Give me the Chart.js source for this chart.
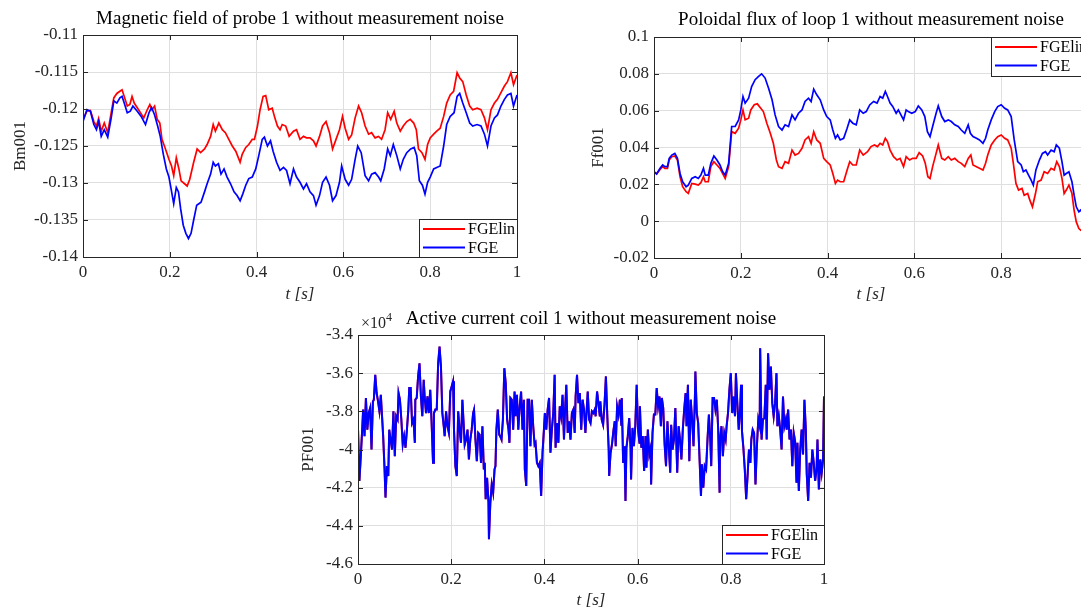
<!DOCTYPE html>
<html>
<head>
<meta charset="utf-8">
<script src="https://cdn.jsdelivr.net/npm/chart.js@4.4.0/dist/chart.umd.min.js"></script>
<style>
  html, body { margin: 0; padding: 0; background: #fff; overflow: hidden; width: 1081px; height: 611px; }
  canvas { position: absolute; }
</style>
</head>
<body>
<canvas id="bmChart" width="540" height="305" style="left:0;top:0"></canvas>
<canvas id="ffChart" width="530" height="305" style="left:580px;top:0"></canvas>
<canvas id="pfChart" width="560" height="311" style="left:290px;top:300px"></canvas>
<script>
// Probe 1 magnetic field [T]
const bmTimeLin = [0, 0.009, 0.017, 0.025, 0.031, 0.036, 0.042, 0.049, 0.057, 0.065, 0.071, 0.078, 0.085, 0.09, 0.095, 0.102, 0.108, 0.113, 0.118, 0.128, 0.14, 0.148, 0.154, 0.159, 0.165, 0.171, 0.177, 0.182, 0.19, 0.198, 0.204, 0.209, 0.215, 0.221, 0.226, 0.234, 0.24, 0.246, 0.255, 0.263, 0.271, 0.28, 0.286, 0.294, 0.3, 0.305, 0.313, 0.321, 0.328, 0.336, 0.344, 0.352, 0.362, 0.367, 0.375, 0.382, 0.39, 0.395, 0.402, 0.408, 0.415, 0.421, 0.428, 0.436, 0.442, 0.448, 0.454, 0.459, 0.467, 0.475,
  0.485, 0.492, 0.5, 0.508, 0.515, 0.523, 0.531, 0.537, 0.545, 0.552, 0.56, 0.568, 0.575, 0.583, 0.591, 0.598, 0.604, 0.612, 0.619, 0.627, 0.635, 0.642, 0.65, 0.658, 0.665, 0.673, 0.681, 0.688, 0.696, 0.702, 0.709, 0.717, 0.723, 0.731, 0.738, 0.746, 0.754, 0.762, 0.768, 0.773, 0.781, 0.788, 0.794, 0.8, 0.808, 0.815, 0.823, 0.831, 0.838, 0.846, 0.854, 0.862, 0.868, 0.875, 0.883, 0.891, 0.898, 0.908, 0.917, 0.925, 0.932, 0.94, 0.948, 0.955, 0.963, 0.971, 0.978, 0.986, 0.992, 1];
const bmFgelin = [-0.1214, -0.1203, -0.1202, -0.1217, -0.1223, -0.1213, -0.123, -0.1219, -0.1232, -0.1205, -0.1185, -0.1179, -0.1176, -0.1174, -0.1183, -0.1196, -0.1194, -0.1183, -0.1192, -0.1201, -0.1212, -0.1201, -0.1194, -0.1201, -0.1196, -0.1214, -0.1219, -0.1241, -0.1254, -0.1268, -0.1277, -0.129, -0.1266, -0.1281, -0.1297, -0.1301, -0.1304, -0.1295, -0.1272, -0.1254, -0.1259, -0.1254, -0.1248, -0.1237, -0.1221, -0.123, -0.1219, -0.1228, -0.1232, -0.1241, -0.125, -0.1257, -0.1272, -0.1261, -0.1252, -0.1248, -0.1241, -0.1241, -0.1223, -0.1201, -0.1183, -0.1182, -0.1201, -0.1199, -0.1212, -0.1223, -0.1228, -0.1221, -0.1223, -0.1237,
  -0.123, -0.1228, -0.1241, -0.1237, -0.1239, -0.1239, -0.1243, -0.125, -0.1237, -0.1223, -0.1217, -0.1232, -0.1254, -0.1241, -0.1228, -0.121, -0.1226, -0.1241, -0.1235, -0.1212, -0.1196, -0.1205, -0.1223, -0.1234, -0.1232, -0.1239, -0.1237, -0.1241, -0.1228, -0.1205, -0.1214, -0.1203, -0.1219, -0.123, -0.1223, -0.1217, -0.1214, -0.1219, -0.1228, -0.1254, -0.1259, -0.1268, -0.1248, -0.1239, -0.1234, -0.123, -0.1226, -0.121, -0.1192, -0.1181, -0.1176, -0.1151, -0.1158, -0.1163, -0.1181, -0.1196, -0.1201, -0.1199, -0.1201, -0.1212, -0.1228, -0.1201, -0.1192, -0.1187, -0.1178, -0.1169, -0.1163, -0.1151, -0.1167, -0.1154];
const bmTimeFge = [0, 0.009, 0.017, 0.025, 0.031, 0.036, 0.042, 0.049, 0.057, 0.065, 0.071, 0.078, 0.085, 0.09, 0.095, 0.102, 0.109, 0.115, 0.125, 0.134, 0.144, 0.152, 0.158, 0.165, 0.172, 0.178, 0.185, 0.192, 0.198, 0.203, 0.209, 0.215, 0.22, 0.225, 0.231, 0.237, 0.243, 0.249, 0.255, 0.262, 0.267, 0.272, 0.28, 0.286, 0.294, 0.3, 0.305, 0.312, 0.318, 0.325, 0.332, 0.34, 0.348, 0.355, 0.362, 0.368, 0.375, 0.382, 0.39, 0.398, 0.405, 0.413, 0.418, 0.425, 0.432, 0.438, 0.446, 0.454, 0.462, 0.469, 0.477,
  0.485, 0.492, 0.5, 0.508, 0.515, 0.523, 0.531, 0.537, 0.545, 0.552, 0.56, 0.568, 0.575, 0.583, 0.591, 0.596, 0.604, 0.612, 0.619, 0.627, 0.633, 0.641, 0.65, 0.658, 0.665, 0.673, 0.681, 0.686, 0.694, 0.702, 0.708, 0.715, 0.723, 0.731, 0.738, 0.746, 0.755, 0.763, 0.769, 0.775, 0.782, 0.788, 0.794, 0.8, 0.808, 0.815, 0.823, 0.831, 0.838, 0.846, 0.855, 0.862, 0.868, 0.875, 0.883, 0.891, 0.898, 0.908, 0.917, 0.925, 0.932, 0.94, 0.948, 0.955, 0.963, 0.971, 0.978, 0.986, 0.992, 1];
const bmFge = [-0.1217, -0.1201, -0.1203, -0.1221, -0.1228, -0.1217, -0.1237, -0.1228, -0.1238, -0.1212, -0.1189, -0.1192, -0.1185, -0.1183, -0.1192, -0.1205, -0.1203, -0.1196, -0.1203, -0.121, -0.1221, -0.1205, -0.1198, -0.1208, -0.1223, -0.1237, -0.1261, -0.1281, -0.1292, -0.1308, -0.1328, -0.1306, -0.1312, -0.1335, -0.1357, -0.1368, -0.1375, -0.1368, -0.135, -0.133, -0.1328, -0.1326, -0.1312, -0.1301, -0.1288, -0.1272, -0.1277, -0.1274, -0.1288, -0.1281, -0.1292, -0.1301, -0.1312, -0.1317, -0.1324, -0.1315, -0.1303, -0.1294, -0.1292, -0.1281, -0.1263, -0.1241, -0.1238, -0.125, -0.1243, -0.1257, -0.1272, -0.1283, -0.1279, -0.1283, -0.1301,
  -0.1281, -0.1292, -0.1299, -0.1308, -0.1301, -0.1312, -0.1317, -0.133, -0.1317, -0.1299, -0.1292, -0.1303, -0.1324, -0.1317, -0.1299, -0.1277, -0.1295, -0.1303, -0.1295, -0.1268, -0.125, -0.1259, -0.129, -0.1297, -0.1288, -0.1286, -0.1292, -0.1297, -0.1281, -0.1254, -0.1263, -0.1248, -0.1263, -0.1281, -0.1268, -0.1259, -0.1254, -0.1252, -0.1263, -0.1297, -0.1303, -0.1315, -0.1299, -0.1292, -0.1281, -0.1279, -0.1277, -0.125, -0.1221, -0.121, -0.1205, -0.1183, -0.1179, -0.1192, -0.1205, -0.1219, -0.1223, -0.1221, -0.1223, -0.1234, -0.125, -0.1223, -0.1212, -0.1208, -0.1196, -0.1187, -0.1181, -0.1179, -0.1196, -0.1181];

// Loop 1 poloidal flux [Wb]
const ffTimeLin = [0, 0.006, 0.014, 0.02, 0.025, 0.031, 0.035, 0.041, 0.048, 0.054, 0.06, 0.066, 0.074, 0.079, 0.087, 0.095, 0.102, 0.108, 0.114, 0.118, 0.125, 0.131, 0.138, 0.145, 0.152, 0.158, 0.164, 0.172, 0.179, 0.187, 0.195, 0.2, 0.205, 0.21, 0.218, 0.223, 0.231, 0.238, 0.246, 0.252, 0.26, 0.268, 0.275, 0.282, 0.287, 0.295, 0.302, 0.31, 0.318, 0.325, 0.333, 0.341, 0.348, 0.356, 0.362, 0.368, 0.375, 0.383, 0.391, 0.398, 0.406, 0.412, 0.418, 0.423, 0.429, 0.437, 0.445, 0.451, 0.458, 0.466, 0.474, 0.482,
  0.492, 0.5, 0.508, 0.515, 0.521, 0.527, 0.533, 0.538, 0.544, 0.552, 0.56, 0.567, 0.575, 0.581, 0.589, 0.596, 0.604, 0.611, 0.619, 0.625, 0.631, 0.636, 0.642, 0.65, 0.655, 0.663, 0.67, 0.678, 0.685, 0.693, 0.701, 0.708, 0.716, 0.724, 0.73, 0.735, 0.743, 0.75, 0.758, 0.764, 0.769, 0.777, 0.785, 0.792, 0.8, 0.808, 0.815, 0.823, 0.828, 0.834, 0.84, 0.848, 0.853, 0.861, 0.866, 0.872, 0.879, 0.884, 0.892, 0.899, 0.907, 0.915, 0.922, 0.928, 0.934, 0.94, 0.945, 0.95, 0.956, 0.963, 0.968, 0.973, 0.979, 0.983, 0.99, 1];
const ffFgelin = [0.0269, 0.0256, 0.0281, 0.0296, 0.0287, 0.0287, 0.0332, 0.035, 0.0354, 0.0332, 0.0241, 0.0187, 0.016, 0.0151, 0.0205, 0.0201, 0.0196, 0.0209, 0.0241, 0.0214, 0.0214, 0.0296, 0.0323, 0.0305, 0.0287, 0.0259, 0.0232, 0.0296, 0.0486, 0.0477, 0.0505, 0.055, 0.0604, 0.055, 0.0559, 0.0604, 0.0632, 0.0637, 0.0613, 0.0595, 0.0532, 0.0477, 0.0423, 0.0332, 0.0296, 0.0287, 0.0323, 0.0314, 0.0386, 0.0359, 0.0368, 0.0396, 0.0441, 0.0459, 0.0423, 0.0486, 0.0441, 0.0423, 0.0341, 0.0323, 0.0305, 0.0259, 0.0205, 0.0223, 0.0214, 0.0214, 0.0278, 0.0323, 0.0305, 0.0305, 0.0386, 0.0359,
  0.0377, 0.0405, 0.0414, 0.0405, 0.0423, 0.0414, 0.045, 0.0432, 0.0386, 0.035, 0.0332, 0.0341, 0.0296, 0.035, 0.0332, 0.0341, 0.0341, 0.0372, 0.0354, 0.0314, 0.0241, 0.0232, 0.0296, 0.0368, 0.0414, 0.0341, 0.0332, 0.035, 0.0332, 0.0341, 0.0323, 0.0314, 0.0296, 0.0341, 0.0359, 0.0305, 0.0296, 0.0287, 0.0278, 0.0314, 0.0359, 0.0414, 0.0441, 0.0459, 0.0468, 0.045, 0.0441, 0.0396, 0.0314, 0.0205, 0.0169, 0.0178, 0.0141, 0.015, 0.0114, 0.0078, 0.015, 0.0214, 0.0223, 0.0269, 0.0259, 0.0287, 0.0278, 0.0323, 0.0296, 0.0232, 0.015, 0.0169, 0.0196, 0.015, 0.0059, -0.0004, -0.004, -0.0049, -0.006, -0.007];
const ffTimeFge = [0, 0.006, 0.014, 0.02, 0.025, 0.031, 0.035, 0.041, 0.048, 0.054, 0.06, 0.066, 0.074, 0.079, 0.087, 0.095, 0.102, 0.108, 0.114, 0.118, 0.125, 0.131, 0.138, 0.145, 0.152, 0.158, 0.164, 0.172, 0.179, 0.187, 0.195, 0.2, 0.205, 0.21, 0.218, 0.225, 0.233, 0.241, 0.248, 0.256, 0.264, 0.272, 0.279, 0.287, 0.295, 0.302, 0.31, 0.318, 0.325, 0.333, 0.341, 0.348, 0.356, 0.362, 0.368, 0.375, 0.383, 0.391, 0.398, 0.406, 0.412, 0.418, 0.423, 0.429, 0.437, 0.445, 0.451, 0.458, 0.466, 0.474, 0.482,
  0.489, 0.497, 0.506, 0.514, 0.521, 0.527, 0.533, 0.538, 0.544, 0.55, 0.558, 0.563, 0.569, 0.575, 0.581, 0.586, 0.594, 0.602, 0.609, 0.617, 0.624, 0.63, 0.636, 0.642, 0.65, 0.655, 0.663, 0.67, 0.678, 0.685, 0.693, 0.701, 0.708, 0.716, 0.724, 0.729, 0.735, 0.743, 0.75, 0.758, 0.764, 0.769, 0.777, 0.785, 0.792, 0.8, 0.808, 0.815, 0.823, 0.83, 0.838, 0.846, 0.851, 0.857, 0.863, 0.869, 0.874, 0.88, 0.888, 0.895, 0.902, 0.907, 0.915, 0.922, 0.927, 0.934, 0.94, 0.945, 0.95, 0.956, 0.963, 0.968, 0.973, 0.979, 0.983, 0.99, 1];
const ffFge = [0.0269, 0.0256, 0.0287, 0.0305, 0.0296, 0.0296, 0.0341, 0.0359, 0.0368, 0.0341, 0.0259, 0.0214, 0.0187, 0.0196, 0.0232, 0.0241, 0.0232, 0.025, 0.0287, 0.025, 0.025, 0.0314, 0.0354, 0.0332, 0.0305, 0.0269, 0.025, 0.0314, 0.0514, 0.0514, 0.055, 0.0604, 0.0677, 0.0641, 0.0668, 0.0731, 0.0768, 0.0786, 0.08, 0.0777, 0.0722, 0.0659, 0.0577, 0.0514, 0.0495, 0.0523, 0.0514, 0.0577, 0.055, 0.0586, 0.0604, 0.065, 0.0668, 0.065, 0.0717, 0.0686, 0.0659, 0.0604, 0.0568, 0.055, 0.0495, 0.045, 0.0468, 0.0441, 0.045, 0.0505, 0.055, 0.0532, 0.0523, 0.0604, 0.0586,
  0.0595, 0.0631, 0.065, 0.0641, 0.0677, 0.0668, 0.0704, 0.0677, 0.0641, 0.0623, 0.0586, 0.0604, 0.0577, 0.055, 0.0604, 0.0595, 0.0586, 0.0595, 0.0626, 0.0604, 0.0568, 0.0486, 0.0459, 0.0514, 0.0586, 0.0626, 0.0568, 0.0541, 0.055, 0.0541, 0.0523, 0.0514, 0.0495, 0.0477, 0.0523, 0.0477, 0.0459, 0.045, 0.0441, 0.0423, 0.045, 0.0495, 0.055, 0.0595, 0.0622, 0.0632, 0.0613, 0.0604, 0.0568, 0.0441, 0.0323, 0.0305, 0.0269, 0.0278, 0.025, 0.0223, 0.0196, 0.0278, 0.0332, 0.0368, 0.0377, 0.0359, 0.0386, 0.0377, 0.0414, 0.0396, 0.0323, 0.025, 0.0259, 0.0268, 0.0214, 0.0141, 0.0078, 0.0051, 0.006, 0.004, 0.003];

// Coil 1 active current, in units of 1e4 A
const pfTime = [0, 0.003, 0.006, 0.009, 0.011, 0.014, 0.017, 0.02, 0.023, 0.026, 0.029, 0.032, 0.034, 0.037, 0.04, 0.043, 0.046, 0.049, 0.052, 0.054, 0.057, 0.059, 0.062, 0.065, 0.067, 0.07, 0.073, 0.076, 0.079, 0.082, 0.085, 0.087, 0.09, 0.093, 0.096, 0.099, 0.102, 0.105, 0.108, 0.11, 0.113, 0.116, 0.119, 0.122, 0.123, 0.126, 0.129, 0.132, 0.135, 0.138, 0.141, 0.143, 0.146, 0.149, 0.152, 0.155, 0.158, 0.161, 0.163, 0.166, 0.169, 0.172, 0.175, 0.178, 0.181, 0.184, 0.186, 0.189, 0.192, 0.195, 0.198, 0.201, 0.204, 0.206, 0.209, 0.212, 0.215, 0.218, 0.221, 0.224, 0.227, 0.229, 0.232, 0.235, 0.238, 0.241, 0.244, 0.247, 0.249, 0.252, 0.255, 0.258, 0.261,
  0.264, 0.267, 0.27, 0.272, 0.274, 0.277, 0.28, 0.281, 0.284, 0.287, 0.29, 0.293, 0.295, 0.297, 0.3, 0.303, 0.305, 0.308, 0.311, 0.314, 0.317, 0.32, 0.323, 0.325, 0.327, 0.33, 0.333, 0.336, 0.338, 0.341, 0.344, 0.347, 0.35, 0.353, 0.356, 0.358, 0.361, 0.364, 0.367, 0.37, 0.373, 0.376, 0.379, 0.381, 0.384, 0.387, 0.39, 0.393, 0.396, 0.399, 0.401, 0.404, 0.407, 0.41, 0.413, 0.416, 0.419, 0.422, 0.424, 0.427, 0.43, 0.433, 0.436, 0.439, 0.442, 0.444, 0.447, 0.45, 0.453, 0.456, 0.459, 0.462, 0.465, 0.467, 0.47, 0.473, 0.476, 0.479, 0.482, 0.485, 0.488, 0.49, 0.493, 0.496, 0.499, 0.502, 0.505, 0.508, 0.51, 0.513, 0.516, 0.519,
  0.52, 0.523, 0.526, 0.529, 0.532, 0.535, 0.538, 0.539, 0.542, 0.545, 0.548, 0.551, 0.553, 0.556, 0.559, 0.562, 0.565, 0.566, 0.569, 0.572, 0.574, 0.576, 0.579, 0.582, 0.585, 0.586, 0.589, 0.592, 0.595, 0.598, 0.601, 0.604, 0.605, 0.608, 0.611, 0.614, 0.617, 0.619, 0.622, 0.625, 0.628, 0.629, 0.632, 0.635, 0.638, 0.641, 0.644, 0.647, 0.65, 0.652, 0.655, 0.658, 0.661, 0.664, 0.667, 0.67, 0.672, 0.675, 0.678, 0.681, 0.684, 0.685, 0.688, 0.691, 0.694, 0.697, 0.7, 0.703, 0.705, 0.708, 0.711, 0.714, 0.717, 0.72, 0.723, 0.724, 0.727, 0.73, 0.733, 0.736, 0.738, 0.741, 0.744, 0.747, 0.75, 0.753, 0.756, 0.758, 0.761, 0.764, 0.767, 0.77, 0.773, 0.776,
  0.777, 0.78, 0.783, 0.786, 0.789, 0.791, 0.794, 0.797, 0.8, 0.803, 0.806, 0.809, 0.811, 0.814, 0.817, 0.82, 0.822, 0.824, 0.827, 0.83, 0.833, 0.836, 0.839, 0.842, 0.844, 0.847, 0.85, 0.853, 0.856, 0.859, 0.862, 0.863, 0.866, 0.869, 0.872, 0.875, 0.877, 0.88, 0.883, 0.886, 0.889, 0.892, 0.895, 0.898, 0.9, 0.903, 0.906, 0.909, 0.912, 0.915, 0.918, 0.92, 0.923, 0.926, 0.929, 0.932, 0.935, 0.938, 0.941, 0.943, 0.946, 0.949, 0.952, 0.955, 0.958, 0.961, 0.963, 0.966, 0.969, 0.972, 0.975, 0.978, 0.981, 0.984, 0.986, 0.989, 0.992, 0.995, 0.998, 1];
const pfFge = [-3.887, -4.165, -4.035, -3.896, -3.791, -3.93, -3.73, -3.896, -3.809, -3.783, -4.0, -3.748, -3.739, -3.609, -3.704, -3.748, -3.8, -3.713, -3.843, -3.93, -4.104, -4.252, -4.087, -4.139, -3.896, -3.948, -4.0, -3.8, -4.035, -3.826, -3.843, -3.704, -3.739, -3.843, -3.974, -3.93, -3.991, -3.896, -3.791, -3.678, -3.678, -3.861, -3.843, -3.965, -3.739, -3.73, -3.617, -3.548, -3.722, -3.826, -3.635, -3.722, -3.809, -3.722, -3.809, -3.687, -3.861, -4.07, -3.809, -3.791, -3.791, -3.548, -3.461, -3.565, -3.809, -3.878, -3.93, -3.8, -3.878, -3.913, -3.696, -3.67, -3.643, -3.896, -4.087, -4.139, -3.8, -3.896, -3.965, -3.739, -3.878, -3.974, -3.948, -3.896, -4.052, -3.948, -3.896, -3.809, -3.791, -3.948, -4.061, -3.913, -3.922,
  -4.07, -3.878, -4.104, -4.07, -4.261, -4.148, -4.278, -4.47, -4.278, -4.183, -4.226, -4.104, -4.087, -3.896, -3.791, -3.922, -3.93, -3.948, -3.843, -3.574, -3.652, -3.843, -3.896, -3.965, -3.73, -3.739, -3.896, -3.696, -3.826, -3.713, -3.896, -3.774, -3.696, -3.896, -3.739, -4.104, -4.191, -3.739, -3.739, -3.983, -3.739, -3.878, -3.974, -3.965, -4.07, -4.087, -4.07, -4.243, -4.017, -3.896, -3.809, -3.896, -3.791, -3.73, -4.017, -3.896, -3.809, -3.609, -3.991, -3.861, -3.965, -3.774, -3.826, -3.713, -3.948, -3.809, -3.661, -3.913, -3.852, -3.948, -3.809, -3.791, -3.913, -3.722, -3.609, -3.757, -3.704, -3.896, -3.739, -3.791, -3.913, -3.826, -3.696, -3.843, -3.861, -3.8, -3.809, -3.791, -3.826, -3.696, -3.757, -3.826,
  -3.748, -3.843, -3.87, -3.765, -3.617, -3.826, -4.0, -4.139, -4.017, -3.974, -3.904, -3.852, -3.983, -3.774, -3.817, -3.739, -3.87, -3.73, -4.07, -3.983, -4.27, -3.991, -3.93, -3.835, -4.0, -4.157, -3.887, -3.983, -3.878, -3.661, -3.896, -3.965, -3.774, -3.991, -3.93, -4.113, -3.93, -4.096, -3.896, -4.026, -3.991, -4.183, -3.913, -3.817, -3.817, -3.678, -3.774, -3.722, -3.878, -3.73, -3.783, -3.974, -4.087, -3.852, -3.991, -4.122, -3.87, -4.0, -3.948, -3.783, -4.035, -4.122, -3.878, -3.948, -4.052, -3.896, -3.791, -3.704, -3.878, -3.661, -4.061, -3.739, -3.843, -3.983, -3.722, -3.591, -3.809, -3.861, -4.052, -4.243, -4.078, -4.2, -4.087, -4.104, -3.948, -3.817, -3.948, -4.087, -3.73, -3.73, -3.791, -3.739, -3.896, -4.226,
  -3.948, -3.878, -4.035, -3.913, -3.948, -3.878, -3.809, -3.687, -3.6, -3.809, -3.722, -3.826, -3.6, -3.757, -3.896, -3.791, -3.661, -3.904, -3.991, -4.104, -4.261, -4.139, -4.0, -4.07, -3.948, -3.896, -3.913, -4.183, -3.983, -3.843, -3.878, -3.47, -3.948, -3.843, -3.835, -3.661, -3.948, -3.496, -3.687, -3.565, -3.757, -3.826, -3.757, -3.6, -3.878, -3.826, -3.896, -4.0, -3.722, -3.878, -3.843, -3.896, -3.791, -3.948, -3.896, -4.087, -3.913, -3.957, -4.174, -3.965, -4.217, -4.0, -3.896, -4.026, -3.739, -3.896, -4.13, -4.27, -4.07, -4.148, -4.0, -4.07, -4.165, -4.104, -3.948, -4.209, -4.052, -4.122, -4.052, -3.722];
// the linearised model tracks FGE on the same samples
const pfFgelin = pfFge;

const SERIF = '"Liberation Serif", "DejaVu Serif", serif';
const AXIS_COLOR = '#262626';

const pairs = (ts, vs) => ts.map((t, i) => ({ x: t, y: vs[i] }));
const fmt = v => String(+v.toFixed(3));

// box around the axes plus inward ticks on all four sides
const matlabAxes = {
  id: 'matlabAxes',
  afterDatasetsDraw(chart) {
    const { ctx, chartArea: a, scales } = chart;
    ctx.save();
    ctx.strokeStyle = AXIS_COLOR;
    ctx.lineWidth = 1;
    ctx.beginPath();
    scales.x.ticks.forEach(t => {
      const px = Math.round(scales.x.getPixelForValue(t.value)) + 0.5;
      ctx.moveTo(px, a.bottom); ctx.lineTo(px, a.bottom - 5);
      ctx.moveTo(px, a.top); ctx.lineTo(px, a.top + 5);
    });
    scales.y.ticks.forEach(t => {
      const py = Math.round(scales.y.getPixelForValue(t.value)) + 0.5;
      ctx.moveTo(a.left, py); ctx.lineTo(a.left + 5, py);
      ctx.moveTo(a.right, py); ctx.lineTo(a.right - 5, py);
    });
    ctx.stroke();
    ctx.strokeRect(Math.round(a.left) + 0.5, Math.round(a.top) + 0.5,
      Math.round(a.right - a.left), Math.round(a.bottom - a.top));
    ctx.restore();
  }
};

// framed legend sitting in a corner of the axes
const boxLegend = {
  id: 'boxLegend',
  afterDraw(chart, args, opts) {
    const { ctx, chartArea: a } = chart;
    const w = opts.width, h = opts.height;
    const x = Math.round(a.right - w);
    const y = Math.round(opts.corner === 'ne' ? a.top : a.bottom - h);
    ctx.save();
    ctx.fillStyle = '#fff';
    ctx.fillRect(x, y, w, h);
    ctx.strokeStyle = AXIS_COLOR;
    ctx.lineWidth = 1;
    ctx.strokeRect(x + 0.5, y + 0.5, w, h);
    ctx.font = '16px ' + SERIF;
    ctx.textBaseline = 'middle';
    chart.data.datasets.forEach((ds, i) => {
      const ry = y + 10 + i * 18.5;
      ctx.strokeStyle = ds.borderColor;
      ctx.lineWidth = 1.8;
      ctx.beginPath();
      ctx.moveTo(x + 4, ry);
      ctx.lineTo(x + 46, ry);
      ctx.stroke();
      ctx.fillStyle = '#000';
      ctx.fillText(ds.label, x + 49, ry + 1);
    });
    ctx.restore();
  }
};

// "x10^4" multiplier above the y axis
const exponentLabel = {
  id: 'exponentLabel',
  afterDraw(chart, args, opts) {
    const { ctx, chartArea: a } = chart;
    ctx.save();
    ctx.fillStyle = AXIS_COLOR;
    ctx.textBaseline = 'alphabetic';
    ctx.font = '16px ' + SERIF;
    ctx.fillText('×10', a.left + 3, a.top - 7);
    const w = ctx.measureText('×10').width;
    ctx.font = '12px ' + SERIF;
    ctx.fillText(opts.power, a.left + 3 + w, a.top - 14);
    ctx.restore();
  }
};

function makeChart(id, cfg) {
  return new Chart(document.getElementById(id), {
    type: 'line',
    data: {
      datasets: [
        { label: 'FGElin', data: pairs(cfg.tLin, cfg.lin), borderColor: '#ff0000', order: 1 },
        { label: 'FGE', data: pairs(cfg.tFge, cfg.fge), borderColor: '#0000ff', order: 0 }
      ]
    },
    options: {
      responsive: false,
      animation: false,
      devicePixelRatio: 1,
      parsing: false,
      normalized: true,
      events: [],
      layout: { padding: { left: 0, right: cfg.padRight, top: 0, bottom: 0 } },
      elements: {
        line: { borderWidth: cfg.lineWidth, tension: 0, fill: false },
        point: { radius: 0 }
      },
      scales: {
        x: {
          type: 'linear', min: 0, max: 1,
          afterFit: s => { s.height = cfg.xHeight; },
          grid: { color: '#dfdfdf', drawTicks: false },
          border: { display: false },
          ticks: { stepSize: 0.2, padding: 5, maxRotation: 0, autoSkip: false, color: AXIS_COLOR,
                   font: { family: SERIF, size: 17 }, callback: fmt },
          title: { display: true, text: 't [s]', color: AXIS_COLOR, padding: { top: 0, bottom: cfg.xTitlePad },
                   font: { family: SERIF, size: 17, style: 'italic' } }
        },
        y: {
          type: 'linear', min: cfg.yMin, max: cfg.yMax,
          afterFit: s => { s.width = cfg.yWidth; },
          grid: { color: '#dfdfdf', drawTicks: false },
          border: { display: false },
          ticks: { stepSize: cfg.yStep, padding: 5, autoSkip: false, color: AXIS_COLOR,
                   font: { family: SERIF, size: 17 }, callback: fmt },
          title: { display: true, text: cfg.yLabel, color: AXIS_COLOR, padding: { top: cfg.yTitlePad, bottom: 0 },
                   font: { family: SERIF, size: 17 } }
        }
      },
      plugins: {
        legend: { display: false },
        tooltip: { enabled: false },
        title: {
          display: true, text: cfg.title, fullSize: false, color: '#000',
          font: { family: SERIF, size: 19, weight: 'normal' },
          padding: { top: cfg.titleTop, bottom: cfg.titleBottom }
        },
        boxLegend: cfg.legend,
        exponentLabel: { power: '4' }
      }
    },
    plugins: cfg.plugins
  });
}

makeChart('bmChart', {
  tLin: bmTimeLin, lin: bmFgelin, tFge: bmTimeFge, fge: bmFge,
  title: 'Magnetic field of probe 1 without measurement noise', yLabel: 'Bm001',
  yMin: -0.14, yMax: -0.11, yStep: 0.005, lineWidth: 1.7,
  yWidth: 83, padRight: 23, xHeight: 48, titleTop: 8, titleBottom: 4.2,
  yTitlePad: 10, xTitlePad: 0,
  legend: { corner: 'se', width: 98, height: 38 },
  plugins: [matlabAxes, boxLegend]
});

makeChart('ffChart', {
  tLin: ffTimeLin, lin: ffFgelin, tFge: ffTimeFge, fge: ffFge,
  title: 'Poloidal flux of loop 1 without measurement noise', yLabel: 'Ff001',
  yMin: -0.02, yMax: 0.1, yStep: 0.02, lineWidth: 1.7,
  yWidth: 74, padRight: 22, xHeight: 47, titleTop: 9, titleBottom: 5.2,
  yTitlePad: 8, xTitlePad: 0,
  legend: { corner: 'ne', width: 97, height: 39 },
  plugins: [matlabAxes, boxLegend]
});

makeChart('pfChart', {
  tLin: pfTime, lin: pfFgelin, tFge: pfTime, fge: pfFge,
  title: 'Active current coil 1 without measurement noise', yLabel: 'PF001',
  yMin: -4.6, yMax: -3.4, yStep: 0.2, lineWidth: 2,
  yWidth: 68, padRight: 26, xHeight: 47, titleTop: 8, titleBottom: 4.2,
  yTitlePad: 8, xTitlePad: 0,
  legend: { corner: 'se', width: 102, height: 39 },
  plugins: [matlabAxes, boxLegend, exponentLabel]
});
</script>
</body>
</html>
